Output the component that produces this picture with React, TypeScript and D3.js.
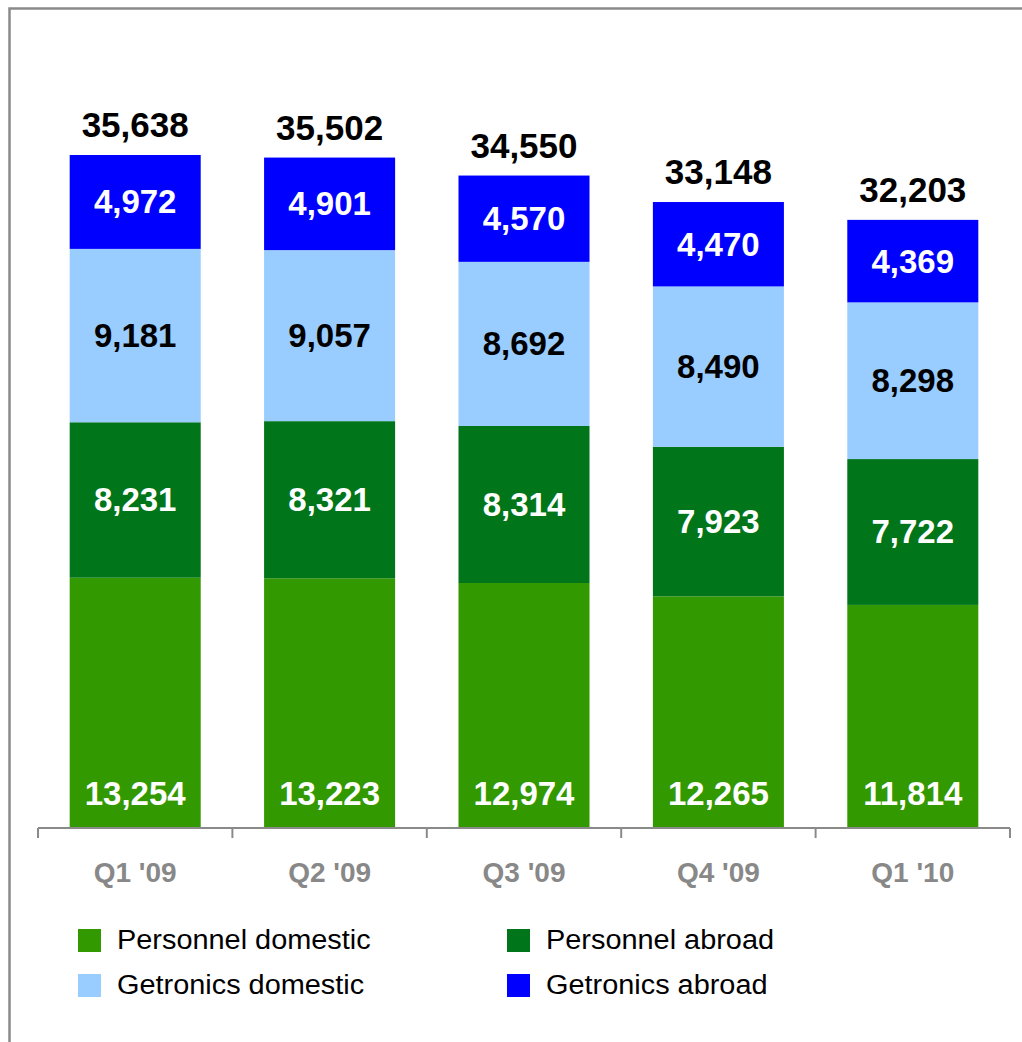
import { useEffect, useRef } from "react";
import * as d3 from "d3";

const quarters = ["Q1 '09", "Q2 '09", "Q3 '09", "Q4 '09", "Q1 '10"];
const seriesNames = [
  "Personnel domestic",
  "Personnel abroad",
  "Getronics domestic",
  "Getronics abroad",
];
const personnelDomestic = [13254, 13223, 12974, 12265, 11814];
const personnelAbroad = [8231, 8321, 8314, 7923, 7722];
const getronicsDomestic = [9181, 9057, 8692, 8490, 8298];
const getronicsAbroad = [4972, 4901, 4570, 4470, 4369];
const totals = [35638, 35502, 34550, 33148, 32203];

const seriesColors = ["#339900", "#007519", "#99ccff", "#0000ff"];
const labelColors = ["#ffffff", "#ffffff", "#000000", "#ffffff"];

const App = () => {
  const svgRef = useRef<SVGSVGElement | null>(null);

  useEffect(() => {
    if (!svgRef.current) return;
    document.body.style.margin = "0";

    const width = 1022;
    const height = 1042;
    const font = "Arial, 'Liberation Sans', sans-serif";

    const svg = d3.select(svgRef.current);
    svg.selectAll("*").remove();
    svg.attr("width", width).attr("height", height);

    // Frame (top and left only)
    svg
      .append("path")
      .attr("d", `M9.5,${height} V8.5 H${width}`)
      .attr("fill", "none")
      .attr("stroke", "#8a8a8a")
      .attr("stroke-width", 2.5);

    const rows = quarters.map((q, i) => ({
      quarter: q,
      s0: personnelDomestic[i],
      s1: personnelAbroad[i],
      s2: getronicsDomestic[i],
      s3: getronicsAbroad[i],
      total: totals[i],
    }));
    const keys = ["s0", "s1", "s2", "s3"];

    const x = d3
      .scaleBand<string>()
      .domain(quarters)
      .range([38, 1010])
      .paddingInner(0.326)
      .paddingOuter(0.163);

    const baseY = 828;
    const y = d3
      .scaleLinear()
      .domain([0, 40000])
      .range([baseY, baseY - 40000 * (673 / 35638)]);

    const stack = d3.stack<any>().keys(keys);
    const series = stack(rows);

    const layers = svg
      .selectAll("g.layer")
      .data(series)
      .enter()
      .append("g")
      .attr("class", "layer")
      .attr("fill", (d, i) => seriesColors[i]);

    layers
      .selectAll("rect")
      .data((d) => d)
      .enter()
      .append("rect")
      .attr("x", (d) => x(d.data.quarter)!)
      .attr("width", x.bandwidth())
      .attr("y", (d) => y(d[1]))
      .attr("height", (d) => y(d[0]) - y(d[1]));

    // Segment labels
    series.forEach((layer, li) => {
      svg
        .append("g")
        .selectAll("text")
        .data(layer)
        .enter()
        .append("text")
        .attr("x", (d) => x(d.data.quarter)! + x.bandwidth() / 2)
        .attr("y", (d) =>
          li === 0 ? baseY - 23 : (y(d[0]) + y(d[1])) / 2 + 11.5
        )
        .attr("text-anchor", "middle")
        .attr("font-family", font)
        .attr("font-weight", "bold")
        .attr("font-size", 33)
        .attr("fill", labelColors[li])
        .text((d) => d3.format(",")(d[1] - d[0]));
    });

    // Totals above bars
    svg
      .append("g")
      .selectAll("text")
      .data(rows)
      .enter()
      .append("text")
      .attr("x", (d) => x(d.quarter)! + x.bandwidth() / 2)
      .attr("y", (d) => y(d.total) - 18)
      .attr("text-anchor", "middle")
      .attr("font-family", font)
      .attr("font-weight", "bold")
      .attr("font-size", 35)
      .attr("fill", "#000")
      .text((d) => d3.format(",")(d.total));

    // X axis
    const axis = svg.append("g").attr("transform", `translate(0,${baseY})`);
    axis
      .append("line")
      .attr("x1", 38)
      .attr("x2", 1010)
      .attr("stroke", "#8a8a8a")
      .attr("stroke-width", 2);
    const tickXs = quarters.map((q) => x(q)! - (x.step() - x.bandwidth()) / 2);
    tickXs.push(1010);
    axis
      .selectAll("line.tick")
      .data(tickXs)
      .enter()
      .append("line")
      .attr("class", "tick")
      .attr("x1", (d) => d)
      .attr("x2", (d) => d)
      .attr("y1", 0)
      .attr("y2", 10)
      .attr("stroke", "#8a8a8a")
      .attr("stroke-width", 2);
    axis
      .selectAll("text")
      .data(quarters)
      .enter()
      .append("text")
      .attr("x", (d) => x(d)! + x.bandwidth() / 2)
      .attr("y", 54)
      .attr("text-anchor", "middle")
      .attr("font-family", font)
      .attr("font-weight", "bold")
      .attr("font-size", 28)
      .attr("fill", "#888888")
      .text((d) => d);

    // Legend
    const legendPos = [
      [78, 929],
      [507, 929],
      [78, 974],
      [507, 974],
    ];
    const legend = svg
      .append("g")
      .selectAll("g")
      .data(seriesNames)
      .enter()
      .append("g")
      .attr("transform", (d, i) => `translate(${legendPos[i][0]},${legendPos[i][1]})`);
    legend
      .append("rect")
      .attr("width", 23)
      .attr("height", 23)
      .attr("fill", (d, i) => seriesColors[i]);
    legend
      .append("text")
      .attr("transform", "translate(39,20) scale(1.07,1)")
      .attr("font-family", font)
      .attr("font-size", 27)
      .attr("fill", "#000")
      .text((d) => d);
  }, []);

  return <svg ref={svgRef} style={{ display: "block" }}></svg>;
};

export default App;
